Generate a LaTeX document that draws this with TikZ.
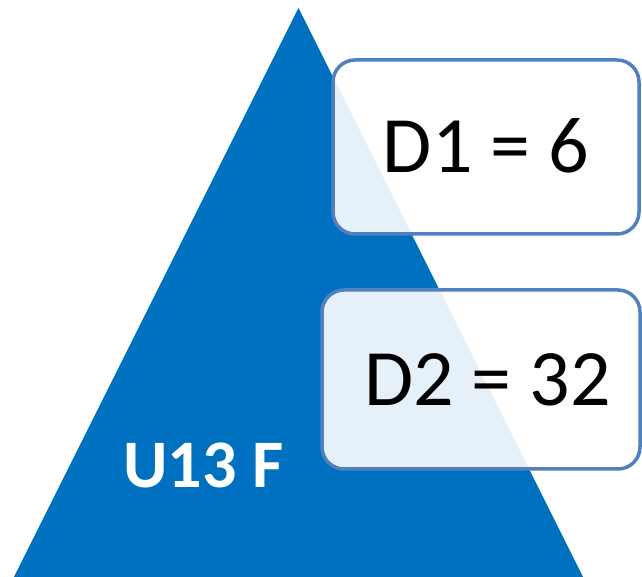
\documentclass[tikz,border=0pt]{standalone}
\usepackage{fontspec}
\setmainfont{Carlito}
\definecolor{triblue}{HTML}{0070C0}
\definecolor{boxline}{HTML}{5080BE}
\begin{document}
\begin{tikzpicture}[x=1pt,y=1pt,
  valbox/.style={draw=boxline, line width=3.5pt, rounded corners=22pt,
    fill=white, fill opacity=0.9, text opacity=1, inner sep=0pt,
    font=\fontsize{80}{80}\selectfont},
  ]
\useasboundingbox (0,0) rectangle (642,577);
\fill[triblue] (14,0) -- (583,0) -- (298.5,569) -- cycle;
\node[text=white, font=\fontsize{68}{68}\selectfont\bfseries] (u) at (203.5,112) {U13 F};
\node[valbox, minimum width=306pt, minimum height=174pt] (d1) at (486,430) {\raisebox{3pt}{D1 = 6}};
\node[valbox, minimum width=318pt, minimum height=179pt] (d2) at (481,197.5) {\hspace{13pt}D2 = 32};
\end{tikzpicture}
\end{document}
